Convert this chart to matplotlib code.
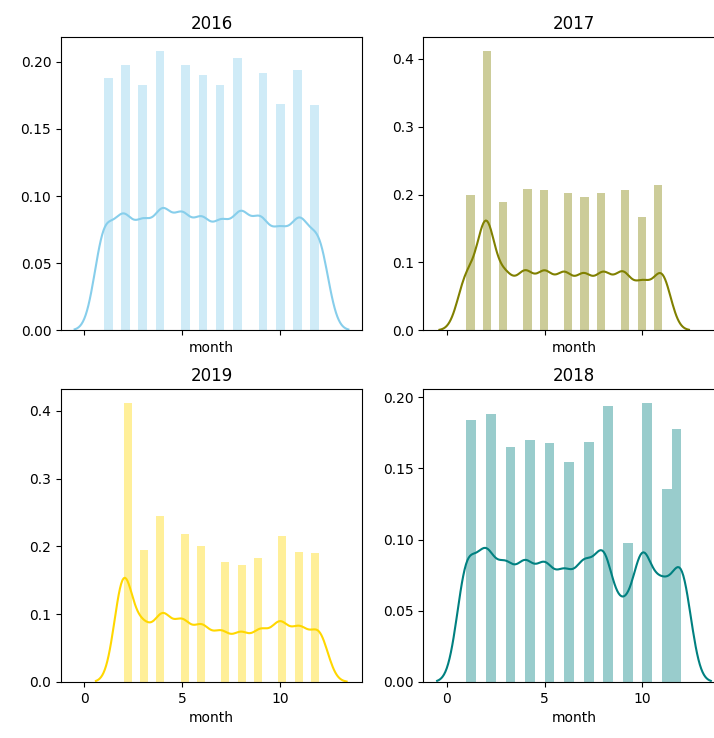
import matplotlib
matplotlib.use("Agg")
import matplotlib.pyplot as plt
from matplotlib.ticker import MultipleLocator
import numpy as np

# density of each month's bar
months_2016 = [1, 2, 3, 4, 5, 6, 7, 8, 9, 10, 11, 12]
dens_2016 = [0.188, 0.198, 0.183, 0.208, 0.198, 0.1905, 0.183, 0.203, 0.192, 0.169, 0.194, 0.168]

months_2017 = [1, 2, 3, 4, 5, 6, 7, 8, 9, 10, 11]
dens_2017 = [0.200, 0.413, 0.190, 0.209, 0.207, 0.2025, 0.197, 0.2025, 0.207, 0.167, 0.215]

months_2019 = [2, 3, 4, 5, 6, 7, 8, 9, 10, 11, 12]
dens_2019 = [0.415, 0.196, 0.247, 0.2195, 0.2017, 0.1785, 0.174, 0.184, 0.2165, 0.194, 0.192]

months_2018 = [1, 2, 3, 4, 5, 6, 7, 8, 9, 10, 11, 12]
dens_2018 = [0.185, 0.1895, 0.166, 0.1707, 0.1684, 0.1553, 0.1696, 0.1946, 0.0981, 0.197, 0.1365, 0.1787]

# number of histogram bins, kde bandwidth and y tick step per panel
bins_count = {"2016": 25, "2017": 24, "2019": 24, "2018": 22}
bandwidth = {"2016": 0.5, "2017": 0.46, "2019": 0.47, "2018": 0.5}
ystep = {"2016": 0.05, "2017": 0.1, "2019": 0.1, "2018": 0.05}

panels = [
    ("2016", months_2016, dens_2016, "skyblue"),
    ("2017", months_2017, dens_2017, "olive"),
    ("2019", months_2019, dens_2019, "gold"),
    ("2018", months_2018, dens_2018, "teal"),
]


def kde_curve(months, weights, bw, gridsize=200, cut=3):
    # weighted gaussian kde, same support rule as seaborn (cut * bw past the data)
    m = np.asarray(months, dtype=float)
    w = np.asarray(weights, dtype=float)
    w = w / w.sum()
    xs = np.linspace(m.min() - cut * bw, m.max() + cut * bw, gridsize)
    ys = np.zeros_like(xs)
    for mi, wi in zip(m, w):
        ys += wi * np.exp(-0.5 * ((xs - mi) / bw) ** 2) / (bw * np.sqrt(2 * np.pi))
    return xs, ys


fig, axes = plt.subplots(2, 2, figsize=(7.14, 7.38), dpi=100, sharex=True)
plt.subplots_adjust(left=0.0854, right=1.0147, top=0.9495, bottom=0.0759,
                    wspace=0.204, hspace=0.2)

for ax, (year, months, dens, color) in zip(axes.flat, panels):
    nb = bins_count[year]
    edges = np.linspace(min(months), max(months), nb + 1)
    ax.hist(months, bins=edges, weights=dens, density=True, color=color, alpha=0.4)
    xs, ys = kde_curve(months, dens, bandwidth[year])
    ax.plot(xs, ys, color=color, lw=1.5)
    ax.set_title(year)
    ax.set_xlabel("month")
    ax.yaxis.set_major_locator(MultipleLocator(ystep[year]))
    ax.xaxis.set_major_locator(MultipleLocator(5))
    if ystep[year] == 0.05:
        ax.yaxis.set_major_formatter(matplotlib.ticker.FormatStrFormatter("%.2f"))
    else:
        ax.yaxis.set_major_formatter(matplotlib.ticker.FormatStrFormatter("%.1f"))

axes[0, 0].tick_params(labelbottom=False)
axes[0, 1].tick_params(labelbottom=False)

plt.savefig("out.png", dpi=100)
